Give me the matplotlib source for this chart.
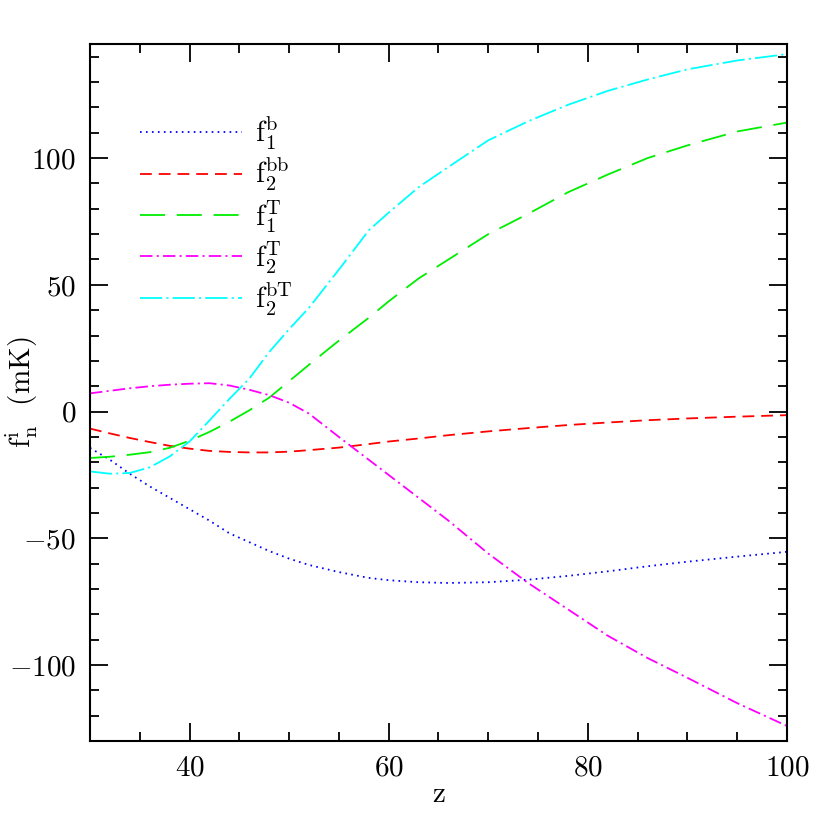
import matplotlib
matplotlib.use("Agg")
import matplotlib.pyplot as plt
from matplotlib.ticker import MultipleLocator

# redshift grid the curves were read at
z = [30, 32, 34, 36, 38, 40, 42, 44, 46, 48, 50, 52, 55, 58, 60,
     63, 66, 70, 74, 78, 82, 86, 90, 95, 100]

f1_b = [-14.3, -19.0, -24.5, -29.5, -34.0, -38.5, -43.0, -48.0, -51.5, -55.0,
        -58.0, -60.5, -63.3, -65.6, -66.5, -67.3, -67.6, -67.3, -66.3, -64.8,
        -63.0, -61.0, -59.2, -57.2, -55.3]
f2_bb = [-6.7, -8.6, -10.4, -12.0, -13.5, -14.6, -15.5, -15.9, -16.1, -16.1,
         -15.8, -15.2, -14.2, -12.8, -11.8, -10.6, -9.3, -7.8, -6.5, -5.3,
         -4.3, -3.4, -2.7, -2.0, -1.4]
f1_T = [-18.3, -17.8, -17.0, -16.0, -14.3, -11.5, -8.0, -4.0, 0.5, 5.5,
        12.0, 18.5, 28.0, 37.0, 43.5, 52.5, 60.0, 70.0, 78.0, 86.5,
        93.5, 100.0, 105.0, 110.5, 114.0]
f2_T = [7.2, 8.2, 9.2, 10.0, 10.6, 11.0, 11.2, 10.3, 8.6, 6.5,
        3.5, -0.8, -10.0, -19.0, -25.0, -34.0, -43.0, -56.0, -67.6, -78.0,
        -88.4, -97.2, -105.0, -115.0, -124.0]
f2_bT = [-23.6, -24.5, -24.2, -22.0, -17.7, -11.8, -3.5, 5.0, 13.0, 23.5,
         32.5, 41.0, 56.0, 71.5, 78.5, 88.5, 96.5, 107.0, 114.5, 121.0,
         126.5, 131.0, 135.0, 138.5, 141.0]

labels = [r"$\mathrm{f}_{1}^{\mathrm{b}}$", r"$\mathrm{f}_{2}^{\mathrm{bb}}$",
          r"$\mathrm{f}_{1}^{\mathrm{T}}$", r"$\mathrm{f}_{2}^{\mathrm{T}}$",
          r"$\mathrm{f}_{2}^{\mathrm{bT}}$"]

plt.rcParams["font.family"] = "serif"
plt.rcParams["font.serif"] = ["cmr10", "DejaVu Serif"]
plt.rcParams["mathtext.fontset"] = "cm"
plt.rcParams["axes.formatter.use_mathtext"] = True
plt.rcParams["lines.scale_dashes"] = False

fig = plt.figure(figsize=(8.3, 8.3), dpi=100)
ax = fig.add_axes([0.1084, 0.107, 0.8398, 0.840])

styles = [
    ("#0000ff", (0, (1.2, 3.1))),
    ("#ff0000", (0, (8.5, 5.0))),
    ("#00ee00", (0, (18.0, 8.5))),
    ("#ff00ff", (0, (9.0, 3.0, 1.5, 3.0))),
    ("#00ffff", (0, (16.0, 3.0, 1.5, 3.0))),
]
for ys, (col, ls), lab in zip([f1_b, f2_bb, f1_T, f2_T, f2_bT], styles, labels):
    ax.plot(z, ys, color=col, linestyle=ls, lw=1.3, label=lab)

ax.set_xlim(30, 100)
ax.set_ylim(-130, 145)
ax.xaxis.set_major_locator(MultipleLocator(20))
ax.xaxis.set_minor_locator(MultipleLocator(5))
ax.yaxis.set_major_locator(MultipleLocator(50))
ax.yaxis.set_minor_locator(MultipleLocator(10))
ax.tick_params(which="both", direction="in", top=True, right=True,
               labelsize=21, width=1.3, pad=10)
ax.tick_params(which="major", length=13)
ax.tick_params(which="minor", length=6.5)
for sp in ax.spines.values():
    sp.set_linewidth(1.5)

ax.set_xlabel("z", fontsize=21, labelpad=0)
ax.set_ylabel(r"$\mathrm{f}_{\mathrm{n}}^{\mathrm{i}}$  (mK)", fontsize=21)
ax.yaxis.set_label_coords(-0.072, 0.5)

ax.legend(loc="upper left", bbox_to_anchor=(0.055, 0.916), frameon=False,
          fontsize=21, handlelength=3.5, handletextpad=0.45, labelspacing=0.16,
          borderaxespad=0)

fig.savefig("out.png", dpi=100)
